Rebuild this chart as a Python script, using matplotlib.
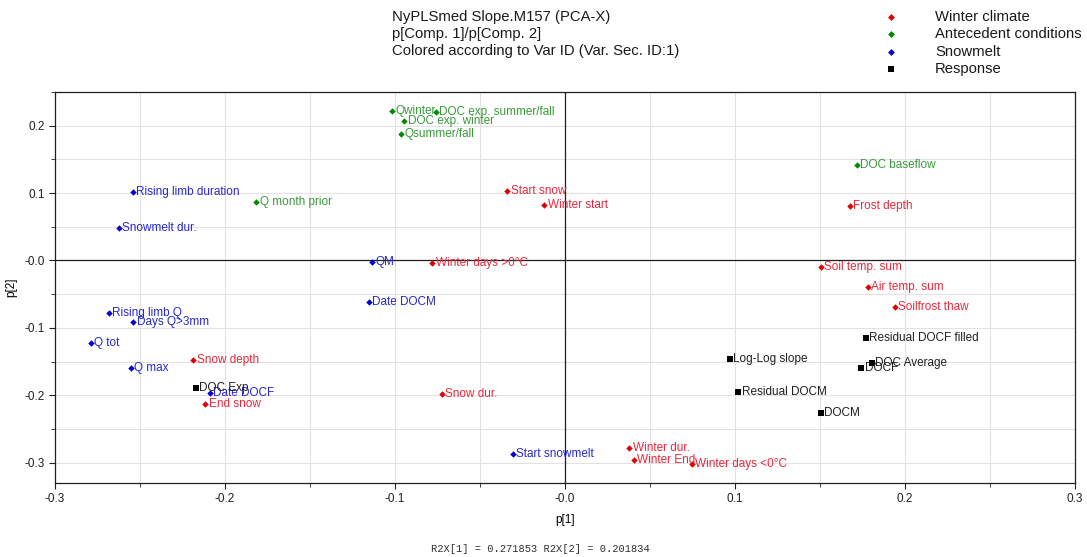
import matplotlib
matplotlib.use("Agg")
import matplotlib.pyplot as plt
from matplotlib.ticker import MultipleLocator, FixedLocator, FixedFormatter

plt.rcParams['font.family'] = ['Liberation Sans', 'DejaVu Sans']

# loadings p[1], p[2] per variable, grouped by Var ID
winter_names = ['Start snow', 'Winter start', 'Winter days >0°C', 'Snow depth',
                'End snow', 'Snow dur.', 'Frost depth', 'Soil temp. sum',
                'Air temp. sum', 'Soilfrost thaw', 'Winter dur.', 'Winter End',
                'Winter days <0°C']
winter_p1 = [-0.0339, -0.0121, -0.0782, -0.2187, -0.2117, -0.0724, 0.1675,
             0.1503, 0.1781, 0.1939, 0.0378, 0.0405, 0.0744]
winter_p2 = [0.1037, 0.0820, -0.0040, -0.1479, -0.2126, -0.1978, 0.0810,
             -0.0094, -0.0398, -0.0684, -0.2783, -0.2956, -0.3020]

antecedent_names = ['Qwinter', 'DOC exp. summer/fall', 'DOC exp. winter',
                    'Qsummer/fall', 'Q month prior', 'DOC baseflow']
antecedent_p1 = [-0.1018, -0.0760, -0.0946, -0.0964, -0.1816, 0.1716]
antecedent_p2 = [0.2217, 0.2198, 0.2070, 0.1880, 0.0869, 0.1412]

snowmelt_names = ['Rising limb duration', 'Snowmelt dur.', 'QM', 'Date DOCM',
                  'Rising limb Q', 'Days Q>3mm', 'Q tot', 'Q max', 'Date DOCF',
                  'Start snowmelt']
snowmelt_p1 = [-0.2542, -0.2625, -0.1137, -0.1153, -0.2683, -0.2539, -0.2791,
               -0.2555, -0.2090, -0.0308]
snowmelt_p2 = [0.1017, 0.0479, -0.0025, -0.0615, -0.0778, -0.0911, -0.1222,
               -0.1588, -0.1963, -0.2877]

response_names = ['DOC Exp', 'Residual DOCF filled', 'Log-Log slope',
                  'DOC Average', 'DOCF', 'Residual DOCM', 'DOCM']
response_p1 = [-0.2173, 0.1769, 0.0969, 0.1804, 0.1742, 0.1018, 0.1503]
response_p2 = [-0.1894, -0.1153, -0.1464, -0.1528, -0.1598, -0.1948, -0.2259]

x_ticks = [-0.3, -0.2, -0.1, 0.0, 0.1, 0.2, 0.3]
x_ticklabels = ['-0.3', '-0.2', '-0.1', '-0.0', '0.1', '0.2', '0.3']
y_ticks = [-0.3, -0.2, -0.1, 0.0, 0.1, 0.2]
y_ticklabels = ['-0.3', '-0.2', '-0.1', '-0.0', '0.1', '0.2']

title_lines = ['NyPLSmed Slope.M157 (PCA-X)', 'p[Comp. 1]/p[Comp. 2]',
               'Colored according to Var ID (Var. Sec. ID:1)']

groups = [
    ('Winter climate', winter_names, winter_p1, winter_p2, 'D', '#e00000', '#e8283c'),
    ('Antecedent conditions', antecedent_names, antecedent_p1, antecedent_p2, 'D', '#008a00', '#3a9a3a'),
    ('Snowmelt', snowmelt_names, snowmelt_p1, snowmelt_p2, 'D', '#0000d0', '#2828cc'),
    ('Response', response_names, response_p1, response_p2, 's', '#000000', '#202020'),
]

fig = plt.figure(figsize=(10.87, 5.57), dpi=100)
ax = fig.add_axes([0.0506, 0.133, 0.9384, 0.702])

for label, names, px, py, mk, mcol, tcol in groups:
    ms = 3.3 if mk == 'D' else 4.5
    ax.plot(px, py, linestyle='none', marker=mk, markersize=ms, color=mcol,
            markeredgewidth=0)
    for n, xv, yv in zip(names, px, py):
        ax.annotate(n, (xv, yv), xytext=(2.5, 0), textcoords='offset points',
                    ha='left', va='center', fontsize=8.5, color=tcol)

ax.set_xlim(-0.3, 0.3)
ax.set_ylim(-0.33, 0.25)
ax.xaxis.set_major_locator(FixedLocator(x_ticks))
ax.xaxis.set_major_formatter(FixedFormatter(x_ticklabels))
ax.yaxis.set_major_locator(FixedLocator(y_ticks))
ax.yaxis.set_major_formatter(FixedFormatter(y_ticklabels))
ax.xaxis.set_minor_locator(MultipleLocator(0.05))
ax.yaxis.set_minor_locator(MultipleLocator(0.05))
ax.grid(True, which='both', color='#e2e2e2', linewidth=0.8)
ax.set_axisbelow(True)
ax.axhline(0, color='#202020', linewidth=0.9, zorder=1)
ax.axvline(0, color='#202020', linewidth=0.9, zorder=1)
ax.tick_params(which='major', length=4, labelsize=8.5, colors='#202020')
ax.tick_params(which='minor', length=3, colors='#202020')
for sp in ax.spines.values():
    sp.set_color('#202020')
    sp.set_linewidth(0.9)

ax.set_xlabel('p[1]', fontsize=8.5, labelpad=6)
ax.set_ylabel('p[2]', fontsize=8.5, labelpad=5)

# title block, one text per line
for i, line in enumerate(title_lines):
    fig.text(392 / 1087, 1 - (17 + i * 17) / 557, line, ha='left',
             va='center', fontsize=10.7, color='#1a1a1a')

# legend drawn by hand to match the layout
for i, (label, names, px, py, mk, mcol, tcol) in enumerate(groups):
    yy = 1 - (17 + i * 17.3) / 557
    ms = 3.5 if mk == 'D' else 5
    fig.lines.append(plt.Line2D([891 / 1087], [yy], marker=mk, markersize=ms,
                                color=mcol, markeredgewidth=0,
                                transform=fig.transFigure))
    fig.text(935 / 1087, yy, label, ha='left', va='center', fontsize=10.7,
             color='#1a1a1a')

fig.text(540 / 1087, 1 - 549 / 557, 'R2X[1] = 0.271853 R2X[2] = 0.201834',
         ha='center', va='center', fontsize=7.5, family='Liberation Mono',
         color='#303030')

fig.savefig('out.png', dpi=100)
